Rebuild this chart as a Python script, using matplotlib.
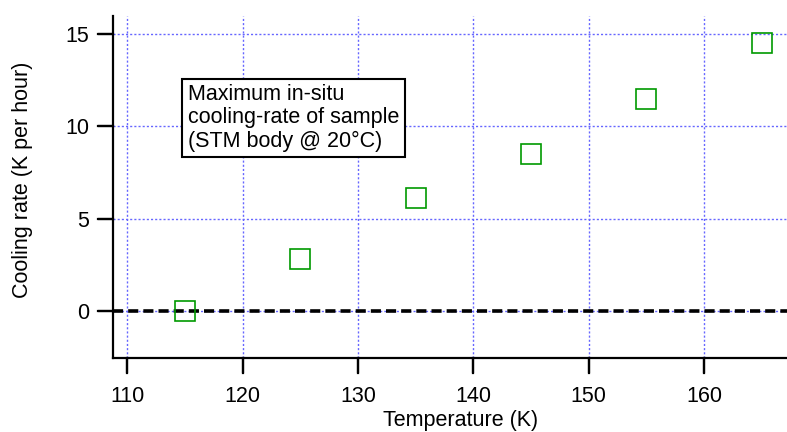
import numpy as np
import matplotlib
matplotlib.use("Agg")
from matplotlib import pyplot as plt
from matplotlib.lines import Line2D

plt.rcParams['font.family'] = ['Liberation Sans', 'DejaVu Sans']

temperature = [115, 125, 135, 145, 155, 165]
cooling_rate = [0.0, 2.8, 6.1, 8.5, 11.5, 14.5]
x_ticks = [110, 120, 130, 140, 150, 160]
y_ticks = [0, 5, 10, 15]

fig = plt.figure(figsize=(7.87, 4.32), dpi=100)
ax = fig.add_axes([0.1436, 0.1713, 0.8564, 0.7917])

ax.set_xlim(108.75, 167.2)
ax.set_ylim(-2.55, 15.97)
ax.set_xticks(x_ticks)
ax.set_yticks(y_ticks)

# grid
grid_col = (0.4, 0.4, 1.0)
for xv in x_ticks:
    ax.axvline(xv, color=grid_col, lw=1.0, ls=(0, (1.5, 1.5)), zorder=0)
for yv in y_ticks:
    ax.axhline(yv, color=grid_col, lw=1.0, ls=(0, (1.5, 1.5)), zorder=0)

# zero line
ax.axhline(0, color='black', lw=2.6, ls=(0, (2.8, 1.4)), zorder=1)

ax.plot(temperature, cooling_rate, ls='none', marker='s', ms=14.5,
        mfc='none', mec='#009900', mew=1.2, zorder=3)

for s in ['top', 'right']:
    ax.spines[s].set_visible(False)
for s in ['left', 'bottom']:
    ax.spines[s].set_linewidth(1.6)
ax.tick_params(which='major', direction='out', length=10.5, width=1.6,
               labelsize=15.5, color='black')
ax.tick_params(axis='x', pad=9.5)
ax.tick_params(axis='y', pad=6.5)

# tick marks also added on the figure level
for xv in x_ticks:
    fig.add_artist(Line2D([xv, xv], [-0.043, 0], transform=ax.get_xaxis_transform(),
                          color='black', lw=1.6, zorder=10))
for yv in y_ticks:
    fig.add_artist(Line2D([-0.0216, 0], [yv, yv], transform=ax.get_yaxis_transform(),
                          color='black', lw=1.6, zorder=10))

ax.set_xlabel('Temperature (K)', fontsize=15.5)
ax.xaxis.set_label_coords(0.516, -0.152)
ax.set_ylabel('Cooling rate (K per hour)', fontsize=15.5)
ax.yaxis.set_label_coords(-0.118, 0.52)

ax.text(0.111, 0.702, 'Maximum in-situ\ncooling-rate of sample\n(STM body @ 20\u00b0C)',
        transform=ax.transAxes, fontsize=15.5, va='center', ha='left',
        linespacing=1.15,
        bbox=dict(boxstyle='square,pad=0.25', fc='white', ec='black', lw=1.5),
        zorder=4)

fig.savefig('out.png', dpi=100)
